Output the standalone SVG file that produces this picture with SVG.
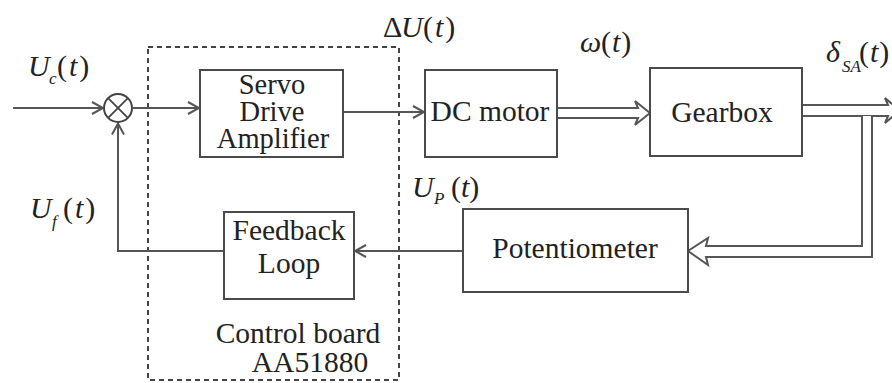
<svg xmlns="http://www.w3.org/2000/svg" width="892" height="383" viewBox="0 0 892 383">
<style>
  .box { fill: #fff; stroke: #4a4a4a; stroke-width: 2; }
  .ln { fill: none; stroke: #555; stroke-width: 2; }
  .dbl { fill: #fff; stroke: #555; stroke-width: 2; stroke-linejoin: miter; }
  .dash { fill: none; stroke: #444; stroke-width: 2; stroke-dasharray: 5 4; }
  text { font-family: 'Liberation Serif', 'Times New Roman', serif; fill: #222; }
  .t { font-size: 29.5px; text-anchor: middle; }
  .s { font-size: 28.5px; text-anchor: middle; }
  .lab { font-size: 30px; }
  .sub { font-size: 17px; font-style: italic; }
  .it { font-style: italic; }
</style>
<defs>
  <marker id="arr" markerWidth="14" markerHeight="14" refX="12" refY="7" orient="auto" markerUnits="userSpaceOnUse">
    <path d="M1,1 L12,7 L1,13" fill="none" stroke="#555" stroke-width="2"/>
  </marker>
</defs>

<rect id="control-board" class="dash" x="148" y="47" width="251" height="333"/>

<g id="connectors">
  <line class="ln" x1="13" y1="108" x2="103" y2="108" marker-end="url(#arr)"/>
  <line class="ln" x1="133" y1="108" x2="199" y2="108" marker-end="url(#arr)"/>
  <line class="ln" x1="343" y1="112" x2="424" y2="112" marker-end="url(#arr)"/>
  <path class="dbl" d="M557,108 H638 L635,101 L650,113 L635,125 L638,118 H557"/>
  <path class="dbl" d="M802,105 H888 L885,98 L900,110.5 L885,123 L888,116 H802"/>
  <path class="dbl" d="M862,116 V246 H706 L708,238 L688,251 L708,265 L706,257 H872 V116"/>
  <line class="ln" x1="463" y1="251" x2="355" y2="251" marker-end="url(#arr)"/>
  <polyline class="ln" points="224,251 118,251 118,123.5" marker-end="url(#arr)"/>
</g>

<g id="sum">
  <circle cx="118" cy="108" r="14" fill="#fff" stroke="#444" stroke-width="2"/>
  <line x1="108.1" y1="98.1" x2="127.9" y2="117.9" stroke="#444" stroke-width="1.8"/>
  <line x1="127.9" y1="98.1" x2="108.1" y2="117.9" stroke="#444" stroke-width="1.8"/>
</g>

<g id="servo">
  <rect class="box" x="200" y="70" width="143" height="87"/>
  <text class="s" x="272" y="94">Servo</text>
  <text class="s" x="272" y="121">Drive</text>
  <text class="s" x="273" y="148">Amplifier</text>
</g>

<g id="dcmotor">
  <rect class="box" x="425" y="70" width="132" height="87"/>
  <text class="t" x="490" y="121">DC motor</text>
</g>

<g id="gearbox">
  <rect class="box" x="650" y="68" width="152" height="88"/>
  <text class="t" x="722" y="122">Gearbox</text>
</g>

<g id="potentiometer">
  <rect class="box" x="463" y="209" width="225" height="83"/>
  <text class="t" x="575" y="258">Potentiometer</text>
</g>

<g id="feedback">
  <rect class="box" x="224" y="212" width="130" height="87"/>
  <text class="t" x="289" y="240">Feedback</text>
  <text class="t" x="289" y="273">Loop</text>
</g>

<g id="labels">
  <text class="t" x="298" y="343">Control board</text>
  <text class="t" x="310" y="372">AA51880</text>

  <text class="lab" y="76"><tspan class="it" x="28">U</tspan><tspan class="sub" x="49" y="84">c</tspan><tspan x="57" y="76" letter-spacing="2">(</tspan><tspan class="it" letter-spacing="2">t</tspan>)</text>

  <text class="lab" y="37"><tspan x="383">Δ</tspan><tspan class="it" x="401">U</tspan><tspan x="423" letter-spacing="2">(</tspan><tspan class="it" letter-spacing="2">t</tspan>)</text>

  <text class="lab" y="52"><tspan class="it" x="580">ω</tspan><tspan x="601" letter-spacing="1">(</tspan><tspan class="it" letter-spacing="1">t</tspan>)</text>

  <text class="lab" y="62"><tspan class="it" x="826">δ</tspan><tspan class="sub" x="842" y="72" font-size="15">SA</tspan><tspan x="859" y="62" letter-spacing="1">(</tspan><tspan class="it" letter-spacing="1">t</tspan>)</text>

  <text class="lab" y="197"><tspan class="it" x="412">U</tspan><tspan class="sub" x="434" y="204" font-size="15">P</tspan><tspan x="451" y="197">(</tspan><tspan class="it">t</tspan>)</text>

  <text class="lab" y="218"><tspan class="it" x="30">U</tspan><tspan class="sub" x="52" y="227">f</tspan><tspan x="63" y="218" letter-spacing="2">(</tspan><tspan class="it" letter-spacing="2">t</tspan>)</text>
</g>
</svg>
